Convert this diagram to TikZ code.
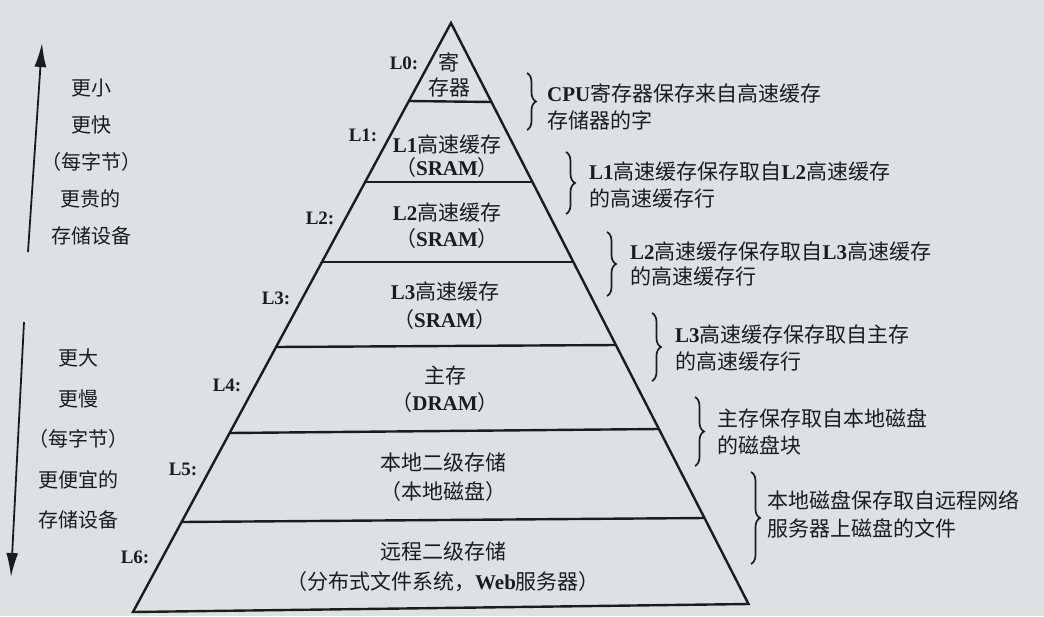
\documentclass[tikz,border=0pt]{standalone}
\usepackage{fontspec}
\setmainfont{Noto Sans CJK SC}
\newfontfamily\latf{Liberation Serif}
\usetikzlibrary{arrows.meta,decorations.pathreplacing}
\newcommand\lt[1]{{\latf\bfseries #1}}
\definecolor{ink}{RGB}{28,28,30}
\definecolor{paper}{RGB}{222,224,226}
\begin{document}
\begin{tikzpicture}[x=1pt,y=-1pt,
  lvl/.style={font=\fontsize{21}{25}\selectfont, align=center, inner sep=0pt, text=ink},
  lab/.style={font=\fontsize{19}{20}\selectfont\latf\bfseries, inner sep=0pt, text=ink},
  ann/.style={font=\fontsize{21}{27}\selectfont, align=left, anchor=west, inner sep=0pt, text=ink},
  side/.style={font=\fontsize{20}{37}\selectfont, align=center, inner sep=0pt, text=ink},
  edge/.style={draw=ink, line width=2.4pt},
  brc/.style={draw=ink, decorate, decoration={brace, amplitude=9pt}, line width=1.7pt},
  arr/.style={draw=ink, line width=1.8pt, -{Latex[length=24pt,width=12pt]}}
]
\fill[paper] (0,0) rectangle (1044,616);
\useasboundingbox (0,0) rectangle (1044,616);

% pyramid
\coordinate (A) at (451,23);
\coordinate (BL) at (133,612);
\coordinate (BR) at (748.5,604);
\draw[edge, line join=miter] (A) -- (BL) -- (BR) -- cycle;
\coordinate (l0a) at (408.9,101); \coordinate (l0b) at (491.4,102);
\coordinate (l1a) at (365.1,182); \coordinate (l1b) at (532.4,182);
\coordinate (l2a) at (321.9,262); \coordinate (l2b) at (573.4,262);
\coordinate (l3a) at (276.0,347); \coordinate (l3b) at (615.9,345);
\coordinate (l4a) at (229.6,433); \coordinate (l4b) at (658.9,429);
\coordinate (l5a) at (181.5,522); \coordinate (l5b) at (704.4,518);
\foreach \i in {0,...,5} \draw[edge] (l\i a) -- (l\i b);

% level texts
\node[lvl, font=\fontsize{21}{25}\selectfont] (t0) at (449,75) {寄\\存器};
\node[lvl, font=\fontsize{21}{23}\selectfont] (t1) at (447,156.5) {\lt{L1}高速缓存\\（\lt{SRAM}）};
\node[lvl, font=\fontsize{21}{26}\selectfont] (t2) at (447,226) {\lt{L2}高速缓存\\（\lt{SRAM}）};
\node[lvl, font=\fontsize{21}{28}\selectfont] (t3) at (445,306) {\lt{L3}高速缓存\\（\lt{SRAM}）};
\node[lvl, font=\fontsize{21}{27}\selectfont] (t4) at (445,389.5) {主存\\（\lt{DRAM}）};
\node[lvl, font=\fontsize{21}{29}\selectfont] (t5) at (443,477.5) {本地二级存储\\（本地磁盘）};
\node[lvl, font=\fontsize{21}{30}\selectfont] (t6) at (443,567) {远程二级存储\\（分布式文件系统，\lt{Web}服务器）};

% level labels
\node[lab] (L0) at (404,63) {L0:};
\node[lab] (L1) at (363,135) {L1:};
\node[lab] (L2) at (320,218) {L2:};
\node[lab] (L3) at (276,298) {L3:};
\node[lab] (L4) at (227,385) {L4:};
\node[lab] (L5) at (183,469) {L5:};
\node[lab] (L6) at (135,557) {L6:};

% braces
\coordinate (b1t) at (527,73);  \coordinate (b1b) at (527,130);
\coordinate (b2t) at (566,152); \coordinate (b2b) at (566,214);
\coordinate (b3t) at (607,232); \coordinate (b3b) at (607,296);
\coordinate (b4t) at (652,313); \coordinate (b4b) at (652,381);
\coordinate (b5t) at (695,397); \coordinate (b5b) at (695,466);
\coordinate (b6t) at (751,472); \coordinate (b6b) at (751,564);
\foreach \i in {1,...,6} \draw[brc] (b\i t) -- (b\i b);

% annotations
\node[ann] (a1) at (547,106.5) {\lt{CPU}寄存器保存来自高速缓存\\存储器的字};
\node[ann] (a2) at (589,185) {\lt{L1}高速缓存保存取自\lt{L2}高速缓存\\的高速缓存行};
\node[ann, font=\fontsize{21}{25}\selectfont] (a3) at (630,264.5) {\lt{L2}高速缓存保存取自\lt{L3}高速缓存\\的高速缓存行};
\node[ann] (a4) at (675,348.5) {\lt{L3}高速缓存保存取自主存\\的高速缓存行};
\node[ann] (a5) at (717,431.5) {主存保存取自本地磁盘\\的磁盘块};
\node[ann, font=\fontsize{21}{28}\selectfont] (a6) at (767,514) {本地磁盘保存取自远程网络\\服务器上磁盘的文件};

% side arrows and texts
\coordinate (upS) at (28,252); \coordinate (upE) at (42,43);
\coordinate (dnS) at (24,322); \coordinate (dnE) at (11,577);
\draw[arr] (upS) -- (upE);
\draw[arr] (dnS) -- (dnE);
\node[side] (s1) at (91,162.5) {更小\\更快\\（每字节）\\更贵的\\存储设备};
\node[side, font=\fontsize{20}{40.5}\selectfont] (s2) at (78,439) {更大\\更慢\\（每字节）\\更便宜的\\存储设备};
\end{tikzpicture}
\end{document}
